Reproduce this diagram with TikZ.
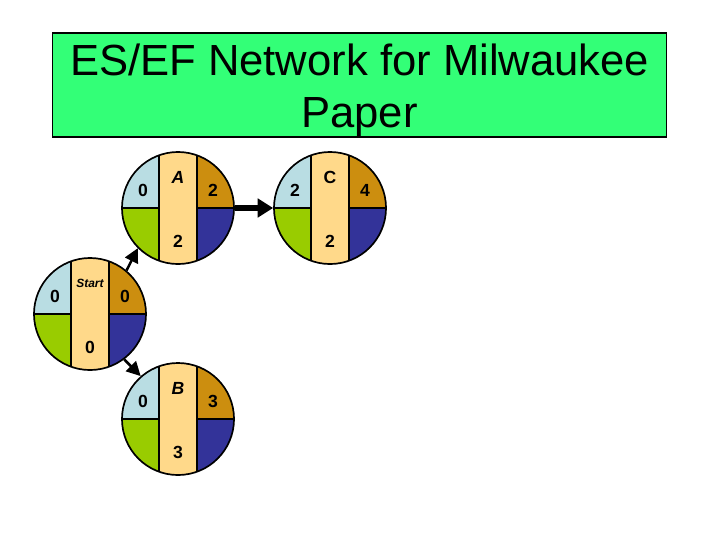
\documentclass[tikz,border=0pt]{standalone}
\usepackage{fontspec}
\setmainfont{Liberation Sans}
\usetikzlibrary{arrows.meta}

\definecolor{titlegreen}{RGB}{51,255,119}
\definecolor{esblue}{RGB}{185,221,227}
\definecolor{efgold}{RGB}{204,142,15}
\definecolor{lsgreen}{RGB}{153,204,0}
\definecolor{lfblue}{RGB}{51,51,153}
\definecolor{midband}{RGB}{255,217,138}

\tikzset{
  titlebox/.style={draw=black, line width=0.8pt, fill=titlegreen,
    minimum width=15.325cm, minimum height=2.6cm, inner sep=0pt},
  titletext/.style={align=center, inner sep=0pt, font=\fontsize{31}{37}\selectfont},
  actcircle/.style={circle, draw=black, line width=1.2pt, minimum size=2.8cm, inner sep=0pt},
  numtext/.style={font=\bfseries\fontsize{12.5}{14}\selectfont, inner sep=0pt},
  link/.style={-{Triangle[length=10pt,width=10pt]}, line width=1.8pt},
  biglink/.style={-{Triangle[length=11pt,width=13pt]}, line width=4.5pt},
}

\begin{document}
\begin{tikzpicture}[x=0.025cm, y=-0.025cm]
  \useasboundingbox (0,0) rectangle (720,540);
  \node[titlebox] (title) at (359.5,85) {};
  \node[titletext] (titletext) at (359.5,90) {ES/EF Network for Milwaukee\\Paper};
  \foreach \n/\x/\y/\lab/\es/\ef/\d in {start/90/314/{\fontsize{8.5}{10}\selectfont\itshape Start}/0/0/0,
      a/178/208/{\itshape A}/0/2/2, b/178/419/{\itshape B}/0/3/3, c/330/208/C/2/4/2} {
    \begin{scope}[shift={(\x,\y)}]
      \begin{scope}
        \clip (0,0) circle (56);
        \fill[esblue] (-56,-56) rectangle (0,0);
        \fill[efgold] (0,-56) rectangle (56,0);
        \fill[lsgreen] (-56,0) rectangle (0,56);
        \fill[lfblue] (0,0) rectangle (56,56);
        \fill[midband] (-19,-56) rectangle (19,56);
        \draw[line width=0.8pt] (-19,-56) -- (-19,56) (19,-56) -- (19,56)
          (-56,0) -- (-19,0) (19,0) -- (56,0);
      \end{scope}
      \node[numtext] (\n-es) at (-35,-18) {\es};
      \node[numtext] (\n-name) at (0,-31) {\lab};
      \node[numtext] (\n-ef) at (35,-18) {\ef};
      \node[numtext] (\n-dur) at (0,33) {\d};
    \end{scope}
    \node[actcircle] (\n) at (\x,\y) {};
  }
  \draw[link] (start.50) -- (a.225);
  \draw[link] (start.-53) -- (b.131);
  \draw[biglink] (a.east) -- (c.west);
\end{tikzpicture}
\end{document}
